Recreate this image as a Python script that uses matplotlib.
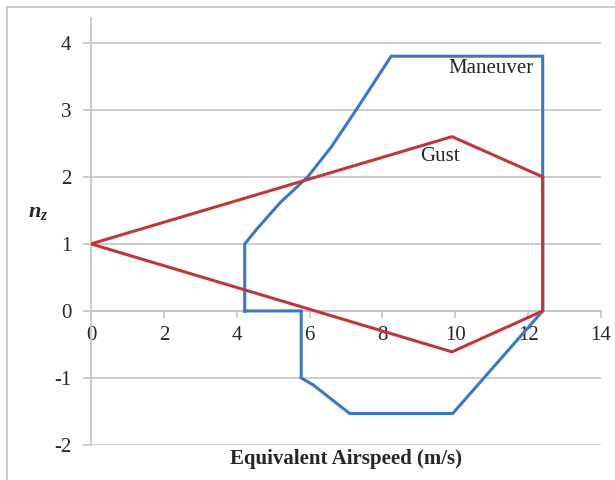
"""V-n diagram: maneuver and gust envelopes."""

import matplotlib

matplotlib.use("Agg")
import matplotlib.pyplot as plt
from matplotlib.lines import Line2D

plt.rcParams["font.family"] = ["Liberation Serif", "DejaVu Serif"]
plt.rcParams["axes.unicode_minus"] = False
plt.rcParams["mathtext.fontset"] = "custom"
plt.rcParams["mathtext.it"] = "Liberation Serif:italic:bold"
plt.rcParams["mathtext.rm"] = "Liberation Serif"

# Maneuver envelope (closed outline)
maneuver_v = [4.22, 4.22, 4.55, 5.2, 5.95, 6.6, 7.28, 8.24, 12.4, 12.4,
              9.93, 7.1, 6.09, 5.77, 5.77, 4.22]
maneuver_n = [0.0, 1.0, 1.22, 1.62, 2.0, 2.45, 3.0, 3.8, 3.8, 0.0,
              -1.53, -1.53, -1.1, -1.0, 0.0, 0.0]

# Gust envelope
gust_v = [0.0, 9.91, 12.4, 12.4, 9.91, 0.0]
gust_n = [1.0, 2.6, 2.0, 0.0, -0.61, 1.0]

x_ticks = [0, 2, 4, 6, 8, 10, 12, 14]
y_ticks = [-2, -1, 0, 1, 2, 3, 4]

BLUE = "#3a78c4"
RED = "#c0363a"
GRID = "#c4c4c4"
TEXT = "#262626"

fig = plt.figure(figsize=(6.15, 4.8), dpi=100)
ax = fig.add_axes([91 / 615, 1 - 445 / 480, 510 / 615, 427 / 480])

ax.plot(maneuver_v, maneuver_n, color=BLUE, lw=2.2, solid_joinstyle="miter", zorder=3)
ax.plot(gust_v, gust_n, color=RED, lw=2.2, solid_joinstyle="miter", zorder=4)

ax.set_xlim(0, 14)
ax.set_ylim(-2, 4.37)
ax.set_xticks(x_ticks)
ax.set_yticks(y_ticks)
ax.yaxis.grid(True, color=GRID, lw=1.2)
ax.set_axisbelow(True)

for side in ("top", "right"):
    ax.spines[side].set_visible(False)
ax.spines["bottom"].set_position(("data", 0))
ax.spines["bottom"].set_color(GRID)
ax.spines["bottom"].set_linewidth(1.2)
ax.spines["left"].set_color(GRID)
ax.spines["left"].set_linewidth(1.2)

ax.tick_params(axis="x", direction="out", length=5, width=1.2, color=GRID,
               labelsize=15, labelcolor=TEXT, pad=6)
ax.tick_params(axis="y", direction="out", length=6, width=1.2, color=GRID,
               labelsize=15, labelcolor=TEXT, pad=8)

ax.text(12.16, 3.62, "Maneuver", ha="right", va="center", fontsize=15, color=TEXT)
ax.text(9.59, 2.3, "Gust", ha="center", va="center", fontsize=15, color=TEXT)

fig.text(346 / 615, 1 - 459 / 480, "Equivalent Airspeed (m/s)", fontsize=15,
         fontweight="bold", ha="center", va="center", color=TEXT)
fig.text(38 / 615, 1 - 212 / 480, r"$n_z$", fontsize=16,
         ha="center", va="center", color=TEXT)

# thin frame on the top and left edges
fig.add_artist(Line2D([7 / 615, 7 / 615], [0, 1 - 7 / 480],
                      transform=fig.transFigure, color=GRID, lw=1.2))
fig.add_artist(Line2D([7 / 615, 1], [1 - 7 / 480, 1 - 7 / 480],
                      transform=fig.transFigure, color=GRID, lw=1.2))

fig.savefig("out.png", dpi=100)
